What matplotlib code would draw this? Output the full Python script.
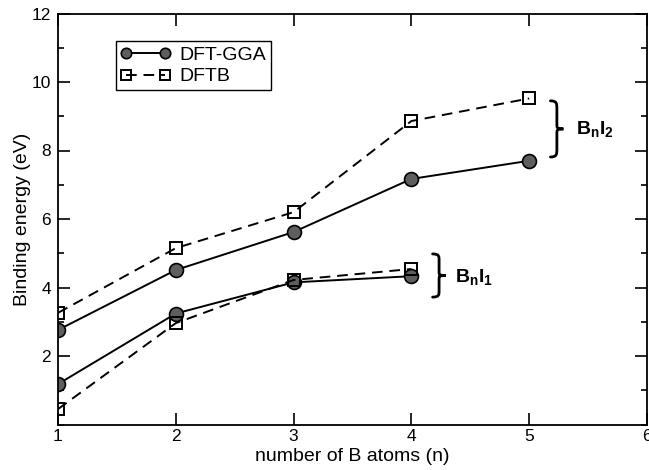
import numpy as np
import matplotlib
matplotlib.use("Agg")
import matplotlib.pyplot as plt
from matplotlib.path import Path
from matplotlib.patches import PathPatch
from matplotlib.ticker import MultipleLocator, FixedLocator

plt.rcParams["font.family"] = ["Liberation Sans", "DejaVu Sans"]
plt.rcParams["mathtext.fontset"] = "custom"
plt.rcParams["mathtext.bf"] = "Liberation Sans:bold"
plt.rcParams["mathtext.rm"] = "Liberation Sans"

# --- data: binding energies (eV) vs number of B atoms ---
n_i2 = [1, 2, 3, 4, 5]
gga_i2 = [2.76, 4.51, 5.62, 7.17, 7.70]
dftb_i2 = [3.26, 5.15, 6.20, 8.86, 9.52]

n_i1 = [1, 2, 3, 4]
gga_i1 = [1.18, 3.24, 4.15, 4.33]
dftb_i1 = [0.45, 2.96, 4.22, 4.54]

x_ticks = [1, 2, 3, 4, 5, 6]
y_ticks = [2, 4, 6, 8, 10, 12]

fig = plt.figure(figsize=(6.49, 4.70), dpi=100)
ax = fig.add_axes([58 / 649, 45.5 / 470, 589 / 649, 411 / 470])

circle_style = dict(color="black", lw=1.4, marker="o", ms=10,
                    mfc="#5e5e5e", mec="black", mew=1.2)
square_style = dict(color="black", lw=1.4, marker="s", ms=9,
                    mfc="none", mec="black", mew=1.4, dashes=(5.5, 3.5))

ax.plot(n_i2, gga_i2, label="DFT-GGA", **circle_style)
ax.plot(n_i2, dftb_i2, label="DFTB", **square_style)
ax.plot(n_i1, gga_i1, **circle_style)
ax.plot(n_i1, dftb_i1, **square_style)

ax.set_xlim(1, 6)
ax.set_ylim(0, 12)
ax.xaxis.set_major_locator(FixedLocator(x_ticks))
ax.yaxis.set_major_locator(FixedLocator(y_ticks))
ax.yaxis.set_minor_locator(MultipleLocator(1))
ax.tick_params(which="both", direction="in", top=True, right=True,
               width=1.2, labelsize=12.5)
ax.tick_params(which="major", length=8.5, pad=5)
ax.tick_params(axis="x", which="major", pad=3.5)
ax.tick_params(which="minor", length=4.5)
for sp in ax.spines.values():
    sp.set_linewidth(1.3)

ax.set_xlabel("number of B atoms (n)", fontsize=14)
ax.set_ylabel("Binding energy (eV)", fontsize=14)
ax.xaxis.set_label_coords(0.5, -0.058)
ax.yaxis.set_label_coords(-0.045, 0.5)

leg = ax.legend(loc="upper left", bbox_to_anchor=(0.098, 0.932),
                fontsize=14, handlelength=2.6, handletextpad=0.4,
                numpoints=2, markerscale=0.75, borderpad=0.25,
                labelspacing=0.2, borderaxespad=0, fancybox=False,
                framealpha=1, edgecolor="black")
leg.get_frame().set_linewidth(1.0)


def curly_brace(ax, x0, x1, y0, y1):
    """Right-pointing brace from y0 to y1; x0 is the back, x1 the tip."""
    xm = (x0 + x1) / 2
    ym = (y0 + y1) / 2
    h = (y1 - y0)
    verts = [
        (x0, y1),
        (xm, y1), (xm, y1 - 0.05 * h), (xm, y1 - 0.15 * h),
        (xm, ym + 0.08 * h),
        (xm, ym + 0.02 * h), (xm, ym), (x1, ym),
        (xm, ym), (xm, ym - 0.02 * h), (xm, ym - 0.08 * h),
        (xm, y0 + 0.15 * h),
        (xm, y0 + 0.05 * h), (xm, y0), (x0, y0),
    ]
    codes = [Path.MOVETO,
             Path.CURVE4, Path.CURVE4, Path.CURVE4,
             Path.LINETO,
             Path.CURVE4, Path.CURVE4, Path.CURVE4,
             Path.CURVE4, Path.CURVE4, Path.CURVE4,
             Path.LINETO,
             Path.CURVE4, Path.CURVE4, Path.CURVE4]
    ax.add_patch(PathPatch(Path(verts, codes), fill=False, lw=2.0,
                           edgecolor="black", clip_on=False,
                           capstyle="round"))


curly_brace(ax, 5.18, 5.29, 7.81, 9.45)
ax.text(5.40, 8.63, r"$\mathbf{B_nI_2}$", fontsize=14, va="center", ha="left")

curly_brace(ax, 4.18, 4.29, 3.72, 4.98)
ax.text(4.37, 4.30, r"$\mathbf{B_nI_1}$", fontsize=14, va="center", ha="left")

fig.savefig("out.png", dpi=100)
